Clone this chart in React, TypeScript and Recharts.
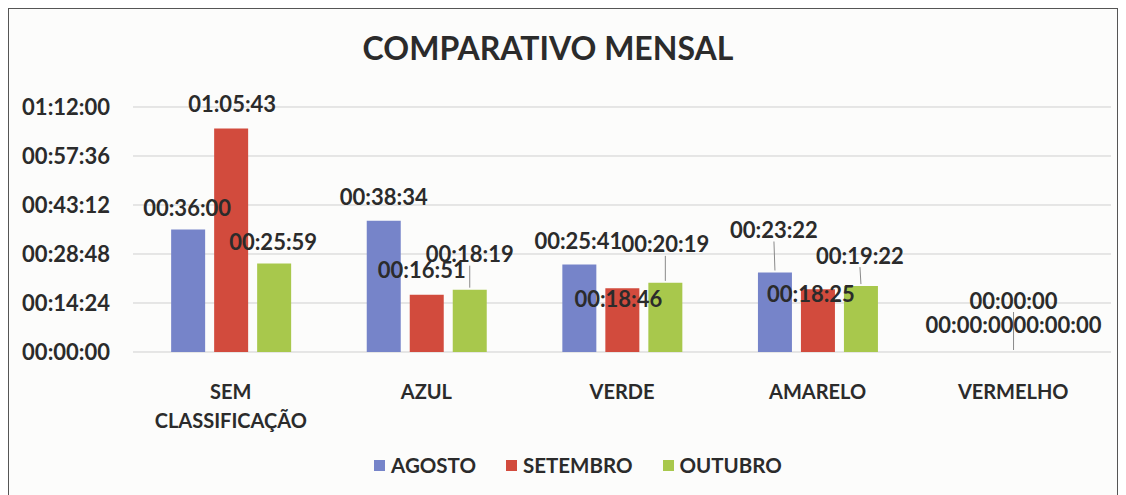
import React from 'react'
import { BarChart, Bar, XAxis, YAxis, CartesianGrid, LabelList, Legend, Cell } from 'recharts'

const categories = ['SEM CLASSIFICAÇÃO', 'AZUL', 'VERDE', 'AMARELO', 'VERMELHO']
// durations in seconds
const agosto = [2160, 2314, 1541, 1402, 0]
const setembro = [3943, 1011, 1126, 1105, 0]
const outubro = [1559, 1099, 1219, 1162, 0]
const yTicks = [0, 864, 1728, 2592, 3456, 4320]

// label placement: [dx from bar centre, dy from bar top, leader line]
const agostoLabelPos = [[-1, -22, 0], [0, -24, 0], [-1, -24, 0], [-1, -43, 1], [-1, -28, 0]]
const setembroLabelPos = [[1, -25, 0], [-5, -25, 0], [-4, 10, 0], [-7, 4, 0], [0, -52, 1]]
const outubroLabelPos = [[-1, -22, 0], [0, -36, 1], [0, -39, 1], [-1, -31, 1], [1, -28, 0]]

const series = [
  { key: 'AGOSTO', values: agosto, color: '#7684c9', pos: agostoLabelPos },
  { key: 'SETEMBRO', values: setembro, color: '#d24b3d', pos: setembroLabelPos },
  { key: 'OUTUBRO', values: outubro, color: '#a8c84c', pos: outubroLabelPos },
]

const data = categories.map((name, i) => ({
  name,
  AGOSTO: agosto[i],
  SETEMBRO: setembro[i],
  OUTUBRO: outubro[i],
}))

const FONT = 'Lato, "Open Sans", sans-serif'
const TEXT = '#2b2b2b'

const fmt = (s: number) => {
  const h = Math.floor(s / 3600)
  const m = Math.floor((s % 3600) / 60)
  const sec = s % 60
  const p = (n: number) => String(n).padStart(2, '0')
  return `${p(h)}:${p(m)}:${p(sec)}`
}

const makeLabel = (pos: number[][], values: number[]) => (props: any) => {
  const { x, y, width, height, index } = props
  const value = values[index]
  const [dx, dy, leader] = pos[index]
  // zero bars get a 1px min height, measure from the baseline
  const top = value === 0 ? y + height : y
  const cx = x + width / 2 + dx
  const cy = top + dy
  return (
    <g>
      {leader ? (
        <line x1={cx} y1={cy + 12} x2={x + width / 2} y2={top - 2} stroke="#8a8a8a" strokeWidth={1} />
      ) : null}
      <text x={cx} y={cy} textAnchor="middle" dominantBaseline="central"
        fontFamily={FONT} fontWeight={700} fontSize={22} fill={TEXT}>
        {fmt(value)}
      </text>
    </g>
  )
}

const CategoryTick = (props: any) => {
  const { x, y, payload } = props
  const words = String(payload.value).split(' ')
  const lines = words.length > 1 ? words : [payload.value]
  return (
    <g>
      {lines.map((l: string, i: number) => (
        <text key={i} x={x} y={y + 31 + i * 29} textAnchor="middle" dominantBaseline="central"
          fontFamily={FONT} fontWeight={700} fontSize={20} fill={TEXT}>
          {l}
        </text>
      ))}
    </g>
  )
}

const LegendContent = () => (
  <div style={{ display: 'flex', justifyContent: 'center', gap: 30, paddingLeft: 30 }}>
    {series.map(s => (
      <div key={s.key} style={{ display: 'flex', alignItems: 'center' }}>
        <span style={{ width: 11, height: 11, background: s.color, marginRight: 6, display: 'inline-block' }} />
        <span style={{ fontFamily: FONT, fontWeight: 700, fontSize: 20.5, color: TEXT }}>{s.key}</span>
      </div>
    ))}
  </div>
)

const App = () => {
  return (
    <div style={{ position: 'relative', width: 1108, height: 486, border: '1px solid #555', borderBottom: 'none', background: '#fcfcfb' }}>
      <div style={{ position: 'absolute', top: 21, left: 289, width: 500, textAlign: 'center',
        fontFamily: FONT, fontWeight: 700, fontSize: 32, color: TEXT, lineHeight: '36px' }}>
        COMPARATIVO MENSAL
      </div>
      <BarChart width={1108} height={486} data={data}
        margin={{ top: 98, right: 6, bottom: 83, left: 0 }}
        barCategoryGap="19.5%" barGap={9}>
        <CartesianGrid vertical={false} stroke="#cfcfcf" />
        <XAxis dataKey="name" axisLine={false} tickLine={false} height={60} interval={0} tick={<CategoryTick />} />
        <YAxis width={124} domain={[0, 4320]} ticks={yTicks} axisLine={false} tickLine={false}
          tickSize={0} tickMargin={23} tickFormatter={fmt}
          tick={{ fontFamily: FONT, fontWeight: 700, fontSize: 22, fill: TEXT }} />
        <Legend verticalAlign="middle" content={<LegendContent />}
          wrapperStyle={{ top: 444, left: 0, width: 1108 }} />
        {series.map(s => (
          <Bar key={s.key} dataKey={s.key} fill={s.color} minPointSize={1} isAnimationActive={false}>
            {s.values.map((v, i) => (
              <Cell key={i} fill={v === 0 ? 'transparent' : s.color} />
            ))}
            <LabelList dataKey={s.key} content={makeLabel(s.pos, s.values)} />
          </Bar>
        ))}
      </BarChart>
    </div>
  )
}

export default App
